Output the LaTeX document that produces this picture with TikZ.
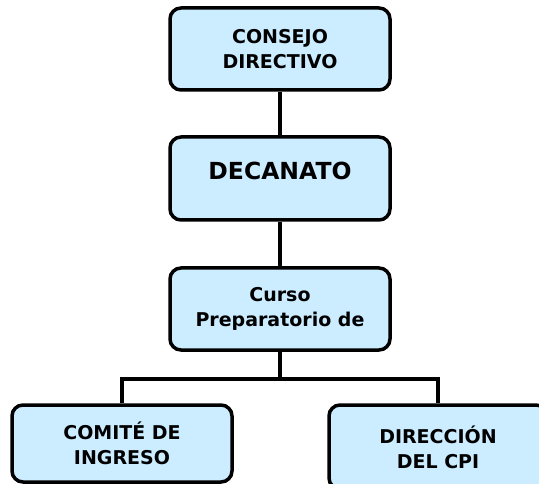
\documentclass[tikz,border=0pt]{standalone}
\usepackage{fontspec}
\setmainfont{DejaVu Sans}
\usetikzlibrary{positioning}

\definecolor{boxblue}{RGB}{204,236,255}
\tikzset{
  orgbox/.style={draw=black, fill=boxblue, line width=3.5pt, rounded corners=11pt,
    minimum width=220pt, align=center, font=\bfseries\fontsize{19}{25}\selectfont},
  link/.style={line width=3.2pt}
}

\begin{document}
\begin{tikzpicture}[x=1pt, y=-1pt]
    \clip (0,0) rectangle (539,484);% keep the page size
    \node[orgbox, minimum height=82pt] (consejo) at (280,49)
        {CONSEJO\\DIRECTIVO};% top box
    \node[orgbox, minimum height=83pt, text depth=16pt,
        font=\bfseries\fontsize{23.5}{28}\selectfont] (decanato) at (280,178.5)
        {DECANATO};% second box
    \node[orgbox, minimum height=82pt] (curso) at (280,309)
        {Curso\\Preparatorio de};% third box
    \node[orgbox, minimum height=77pt] (comite) at (122,443.5)
        {COMITÉ DE\\INGRESO};% bottom left
    \node[orgbox, minimum width=218pt, minimum height=84pt] (direccion) at (438,447)
        {DIRECCIÓN\\DEL CPI};% bottom right
    % connectors
    \coordinate (split) at (280,379);
    \draw[link] (consejo) -- (decanato);
    \draw[link] (decanato) -- (curso);
    \draw[link] (curso) -- (split);
    \draw[link] (comite.north) |- (split) -| (direccion.north);
\end{tikzpicture}
\end{document}
